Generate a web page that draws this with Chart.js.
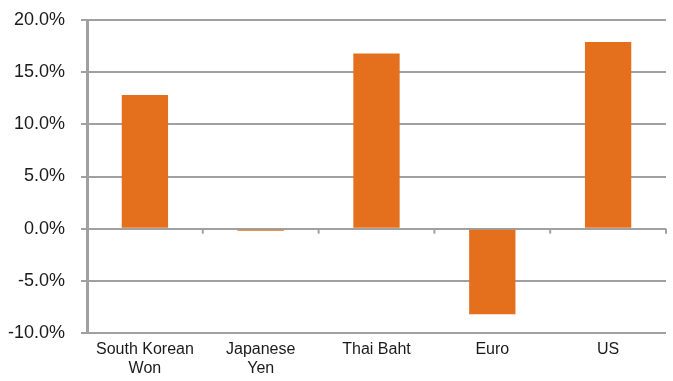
<!DOCTYPE html>
<html>
<head>
    <script src="https://cdn.jsdelivr.net/npm/chart.js@4"></script>
    <style>
        body { margin: 0; background: #fff; }
        #wrap { width: 673px; height: 381px; }
    </style>
</head>
<body>
<div id="wrap"><canvas id="myChart"></canvas></div>
<script>
    var myLabels = [['South Korean', 'Won'], ['Japanese', 'Yen'], 'Thai Baht', 'Euro', 'US'];
    var myValues = [12.8, -0.2, 16.8, -8.2, 17.9];
    var yTicks = [-10, -5, 0, 5, 10, 15, 20];

    var fontFam = "'Liberation Sans', Arial, sans-serif";
    var gridGrey = '#a0a0a0';

    // little tick marks on the zero line, between categories
    var zeroTicks = {
        id: 'zeroTicks',
        afterDatasetsDraw(chart) {
            var ctx = chart.ctx, x = chart.scales.x, y = chart.scales.y;
            var y0 = y.getPixelForValue(0);
            ctx.save();
            ctx.strokeStyle = gridGrey;
            ctx.lineWidth = 2;
            for (var i = 0; i <= myLabels.length; i++) {
                var px = x.getPixelForValue(i - 0.5);
                ctx.beginPath();
                ctx.moveTo(px, y0);
                ctx.lineTo(px, y0 + 5);
                ctx.stroke();
            }
            ctx.restore();
        }
    };

    new Chart(document.getElementById('myChart').getContext('2d'), {
        type: 'bar',
        data: {
            labels: myLabels,
            datasets: [{
                data: myValues,
                backgroundColor: '#e4701e',
                borderWidth: 0,
                categoryPercentage: 1,
                barPercentage: 0.4
            }]
        },
        options: {
            responsive: true,
            maintainAspectRatio: false,
            animation: false,
            layout: { padding: { top: 0, right: 7, left: 0, bottom: 0 } },
            plugins: { legend: { display: false }, tooltip: { enabled: false } },
            scales: {
                x: {
                    grid: { display: false, drawTicks: false, tickLength: 0 },
                    border: { display: false },
                    afterFit(axis) { axis.height = 48; },
                    ticks: {
                        color: '#1a1a1a',
                        font: { family: fontFam, size: 16, lineHeight: 1.2 },
                        padding: 7,
                        maxRotation: 0,
                        autoSkip: false
                    }
                },
                y: {
                    min: -10,
                    max: 20,
                    afterBuildTicks(axis) {
                        axis.ticks = yTicks.map(v => ({ value: v }));
                    },
                    afterFit(axis) {
                        axis.width = 87;
                        axis.paddingTop = 20;
                    },
                    grid: {
                        color: gridGrey,
                        lineWidth: 2,
                        tickLength: 6
                    },
                    border: { color: gridGrey, width: 3 },
                    ticks: {
                        color: '#1a1a1a',
                        font: { family: fontFam, size: 18 },
                        padding: 16,
                        callback: v => v.toFixed(1) + '%'
                    }
                }
            }
        },
        plugins: [zeroTicks]
    });
</script>
</body>
</html>
